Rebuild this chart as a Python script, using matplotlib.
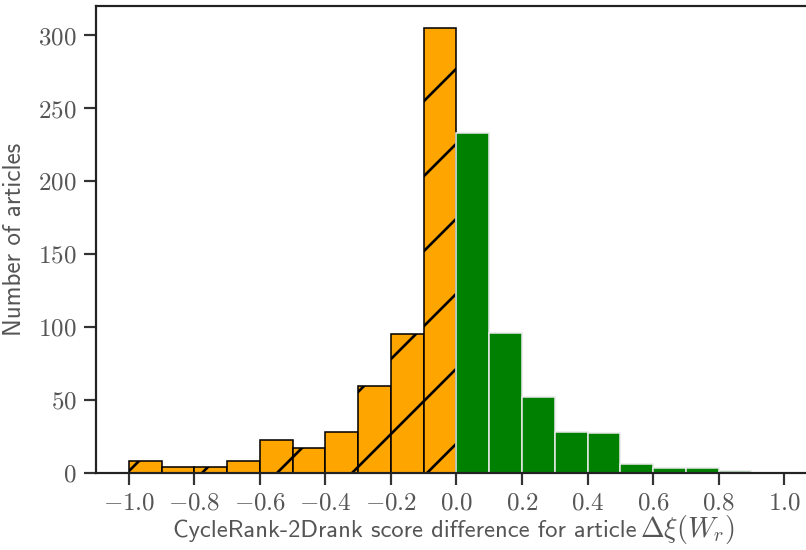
import numpy as np
import matplotlib
matplotlib.use('Agg')
import matplotlib.pyplot as plt
from matplotlib.ticker import FuncFormatter

# histogram counts, bins of width 0.1
neg_edges = [-1.0, -0.9, -0.8, -0.7, -0.6, -0.5, -0.4, -0.3, -0.2, -0.1]
neg_counts = [8, 4, 4, 8, 22, 17, 28, 59, 95, 305]
pos_edges = [0.0, 0.1, 0.2, 0.3, 0.4, 0.5, 0.6, 0.7, 0.8, 0.9]
pos_counts = [233, 96, 52, 28, 27, 6, 3, 3, 1, 0]
bin_width = 0.1

xticks = [-1.0, -0.8, -0.6, -0.4, -0.2, 0.0, 0.2, 0.4, 0.6, 0.8, 1.0]
yticks = [0, 50, 100, 150, 200, 250, 300]

# hatch spacing scales with dpi, so pick dpi to get the sparse hatch
DPI = 225
plt.rcParams['mathtext.fontset'] = 'cm'
plt.rcParams['font.family'] = ['cmss10', 'DejaVu Sans']
plt.rcParams['hatch.linewidth'] = 0.85

text_col = '#555555'
line_col = '#333333'

fig = plt.figure(figsize=(806 / DPI, 550 / DPI), dpi=DPI)
ax = fig.add_axes([96 / 806, 1 - 472.5 / 550, 721 / 806, 466.5 / 550])

ax.bar(neg_edges, neg_counts, width=bin_width, align='edge', color='orange',
       edgecolor='black', linewidth=0.5, hatch='/')
ax.bar(pos_edges, pos_counts, width=bin_width, align='edge', color='green',
       edgecolor='#e8e8e8', linewidth=0.5)

ax.set_xlim(-1.1, 1.1)
ax.set_ylim(0, 320)
ax.set_xticks(xticks)
ax.set_yticks(yticks)
ax.xaxis.set_major_formatter(FuncFormatter(lambda v, p: '$%.1f$' % v))
ax.yaxis.set_major_formatter(FuncFormatter(lambda v, p: '$%d$' % v))

ax.tick_params(direction='out', length=3.9, width=0.7, colors=line_col,
               labelcolor=text_col, labelsize=8.0, pad=2.3)
for s in ax.spines.values():
    s.set_linewidth(0.7)
    s.set_color('#222222')

# x label: sans text plus a slightly larger math part
ax.set_xlabel('CycleRank-2Drank score difference for article',
              fontsize=7.85, color=text_col, ha='left', va='baseline')
ax.xaxis.set_label_coords(0.1068, -0.1376)
ax.text(0.7545, -0.1376, r'$\Delta\xi(W_r)$', transform=ax.transAxes,
        fontsize=9.1, color=text_col, ha='left', va='baseline', clip_on=False)

ax.set_ylabel('Number of articles', fontsize=8.0, color=text_col, labelpad=4)

fig.savefig('out.png', dpi=DPI)
